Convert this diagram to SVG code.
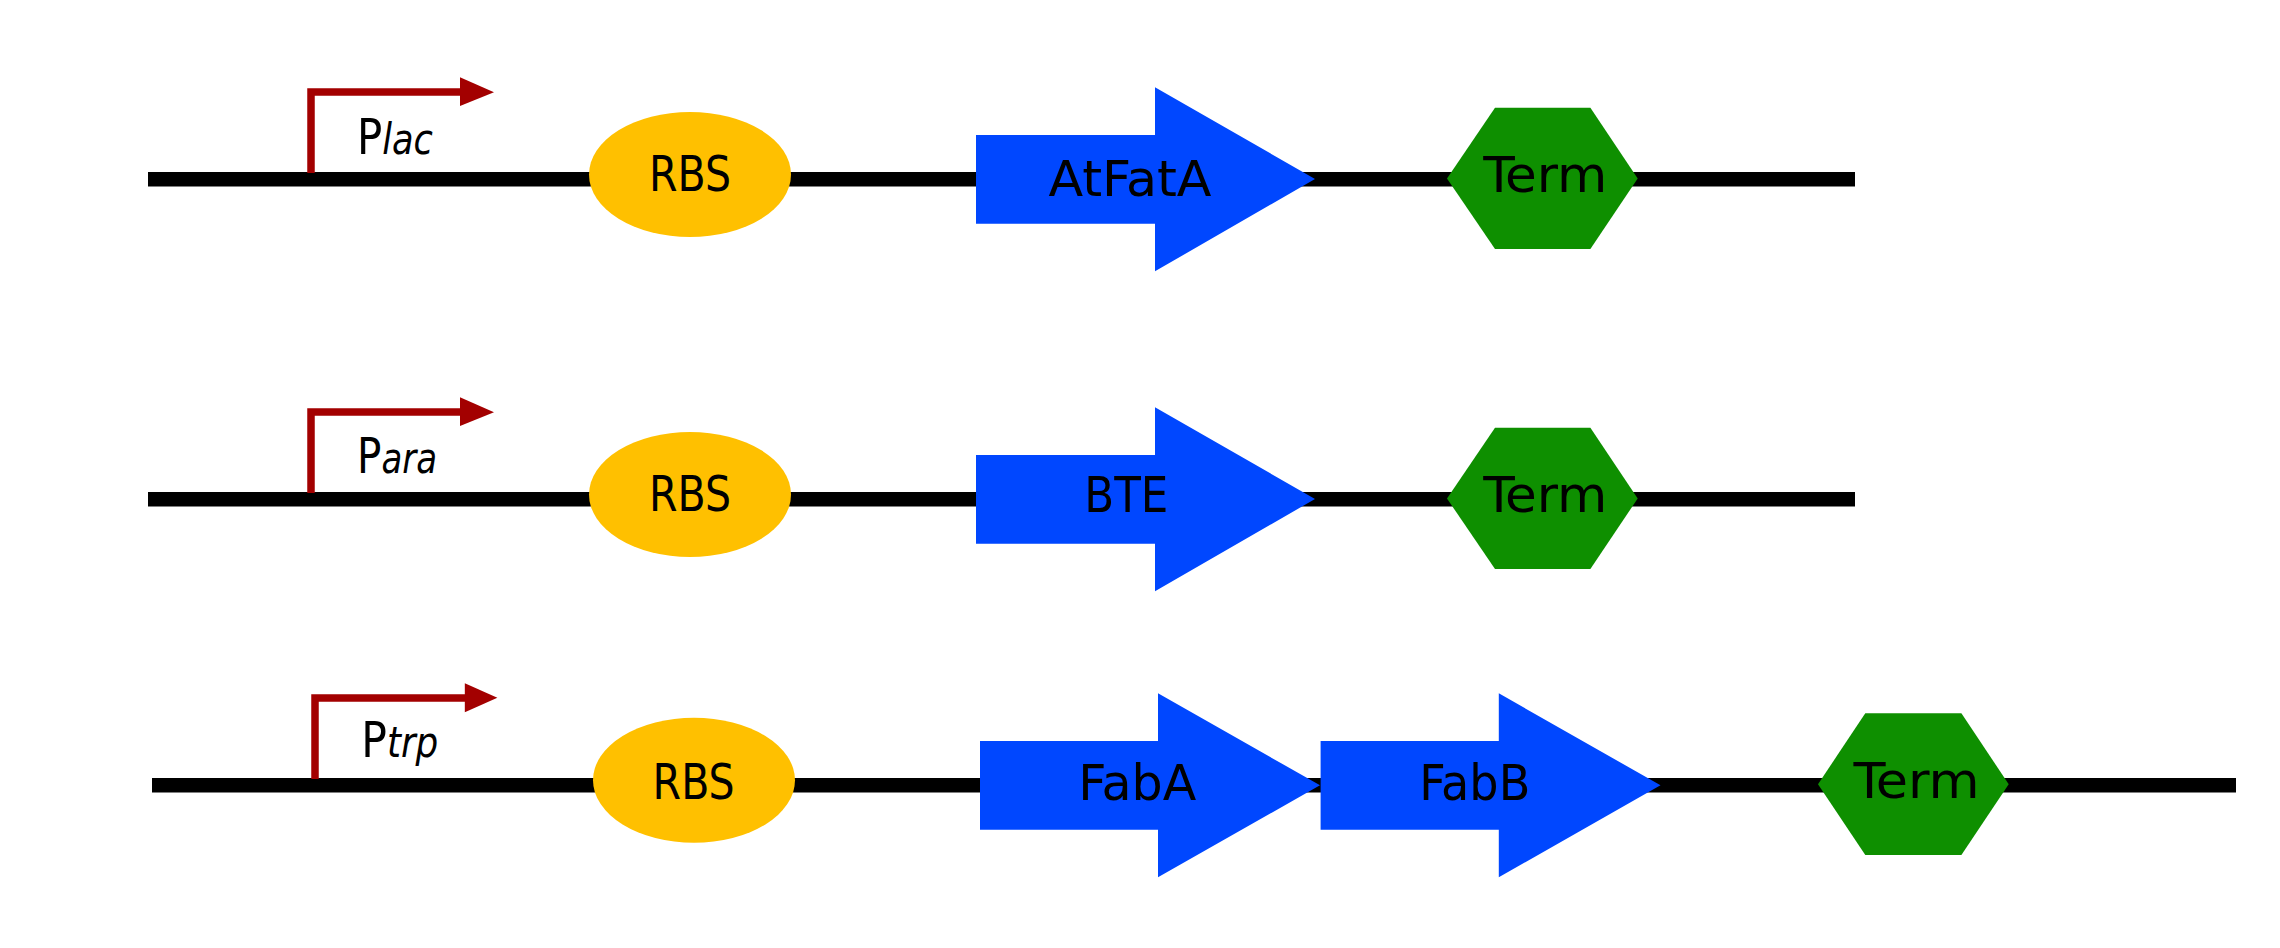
<svg xmlns="http://www.w3.org/2000/svg" width="2280" height="948" viewBox="0 0 2280 948">
<style>
.bb{stroke:#000;stroke-width:14.5;fill:none}
.prom{stroke:#A30000;stroke-width:7.5;fill:none;stroke-linejoin:miter}
.promhead{fill:#A30000}
.rbs{fill:#FFC000}
.cds{fill:#0047FF}
.term{fill:#0E8F00}
.lbl{font-family:"Liberation Sans Narrow","DejaVu Sans Condensed","Liberation Sans",sans-serif;font-size:49px;fill:#000}
.plbl{font-family:"Liberation Sans Narrow","DejaVu Sans Condensed","Liberation Sans",sans-serif;font-size:50px;fill:#000}
.sub{font-style:italic;font-size:42px}
</style>
<rect width="2280" height="948" fill="#fff"/>
<g id="connectors">
<line class="bb" x1="148" y1="179.3" x2="1855" y2="179.3"/>
<line class="bb" x1="148" y1="499.3" x2="1855" y2="499.3"/>
<line class="bb" x1="152" y1="785.2" x2="2236" y2="785.2"/>
</g>
<!-- Row 1 -->
<g id="promoter-lac">
<path class="prom" d="M311,173 V92 H462"/>
<polygon class="promhead" points="460,77.3 494,92.3 460,106"/>
<text class="plbl" x="357" y="154.3" textLength="76" lengthAdjust="spacingAndGlyphs">P<tspan class="sub">lac</tspan></text>
</g>
<g id="rbs-1">
<ellipse class="rbs" cx="690" cy="174.5" rx="101" ry="62.5"/>
<text class="lbl" x="690" y="191" text-anchor="middle" textLength="82" lengthAdjust="spacingAndGlyphs">RBS</text>
</g>
<g id="cds-atfata">
<polygon class="cds" points="976,135 1155,135 1155,87.3 1315,179 1155,271.3 1155,223.7 976,223.7"/>
<text class="lbl" x="1130" y="195.5" text-anchor="middle" textLength="163" lengthAdjust="spacingAndGlyphs">AtFatA</text>
</g>
<g id="term-1">
<polygon class="term" points="1447,178.5 1495,107.7 1590.4,107.7 1637.7,178.5 1590.4,249 1495,249"/>
<text class="lbl" x="1545.3" y="192.3" text-anchor="middle" textLength="124" lengthAdjust="spacingAndGlyphs">Term</text>
</g>
<!-- Row 2 -->
<g id="promoter-ara">
<path class="prom" d="M311,493 V412 H462"/>
<polygon class="promhead" points="460,397.3 494,412.3 460,426"/>
<text class="plbl" x="357" y="473.3" textLength="80" lengthAdjust="spacingAndGlyphs">P<tspan class="sub">ara</tspan></text>
</g>
<g id="rbs-2">
<ellipse class="rbs" cx="690" cy="494.5" rx="101" ry="62.5"/>
<text class="lbl" x="690" y="511" text-anchor="middle" textLength="82" lengthAdjust="spacingAndGlyphs">RBS</text>
</g>
<g id="cds-bte">
<polygon class="cds" points="976,455 1155,455 1155,407.3 1315,499 1155,591.3 1155,543.7 976,543.7"/>
<text class="lbl" x="1126.3" y="512.3" text-anchor="middle" textLength="84" lengthAdjust="spacingAndGlyphs">BTE</text>
</g>
<g id="term-2">
<polygon class="term" points="1447,498.5 1495,427.7 1590.4,427.7 1637.7,498.5 1590.4,569 1495,569"/>
<text class="lbl" x="1545.3" y="512.3" text-anchor="middle" textLength="124" lengthAdjust="spacingAndGlyphs">Term</text>
</g>
<!-- Row 3 -->
<g id="promoter-trp">
<path class="prom" d="M315,779 V698 H466"/>
<polygon class="promhead" points="464.8,683.3 497.4,697.8 464.8,712.3"/>
<text class="plbl" x="361.3" y="756.7" textLength="77" lengthAdjust="spacingAndGlyphs">P<tspan class="sub">trp</tspan></text>
</g>
<g id="rbs-3">
<ellipse class="rbs" cx="694" cy="780.2" rx="101" ry="62.5"/>
<text class="lbl" x="693.6" y="798.5" text-anchor="middle" textLength="82" lengthAdjust="spacingAndGlyphs">RBS</text>
</g>
<g id="cds-faba">
<polygon class="cds" points="980,741 1158,741 1158,693.3 1320,785.3 1158,877.3 1158,829.7 980,829.7"/>
<text class="lbl" x="1137.3" y="799.5" text-anchor="middle" textLength="118" lengthAdjust="spacingAndGlyphs">FabA</text>
</g>
<g id="cds-fabb">
<polygon class="cds" points="1320.6,741 1498.8,741 1498.8,693.3 1660.5,785.3 1498.8,877.3 1498.8,829.7 1320.6,829.7"/>
<text class="lbl" x="1474.8" y="799.5" text-anchor="middle" textLength="111" lengthAdjust="spacingAndGlyphs">FabB</text>
</g>
<g id="term-3">
<polygon class="term" points="1818,784.2 1865.3,713.3 1961.4,713.3 2008.7,784.2 1961.4,855 1865.3,855"/>
<text class="lbl" x="1916.6" y="798" text-anchor="middle" textLength="126" lengthAdjust="spacingAndGlyphs">Term</text>
</g>
</svg>
